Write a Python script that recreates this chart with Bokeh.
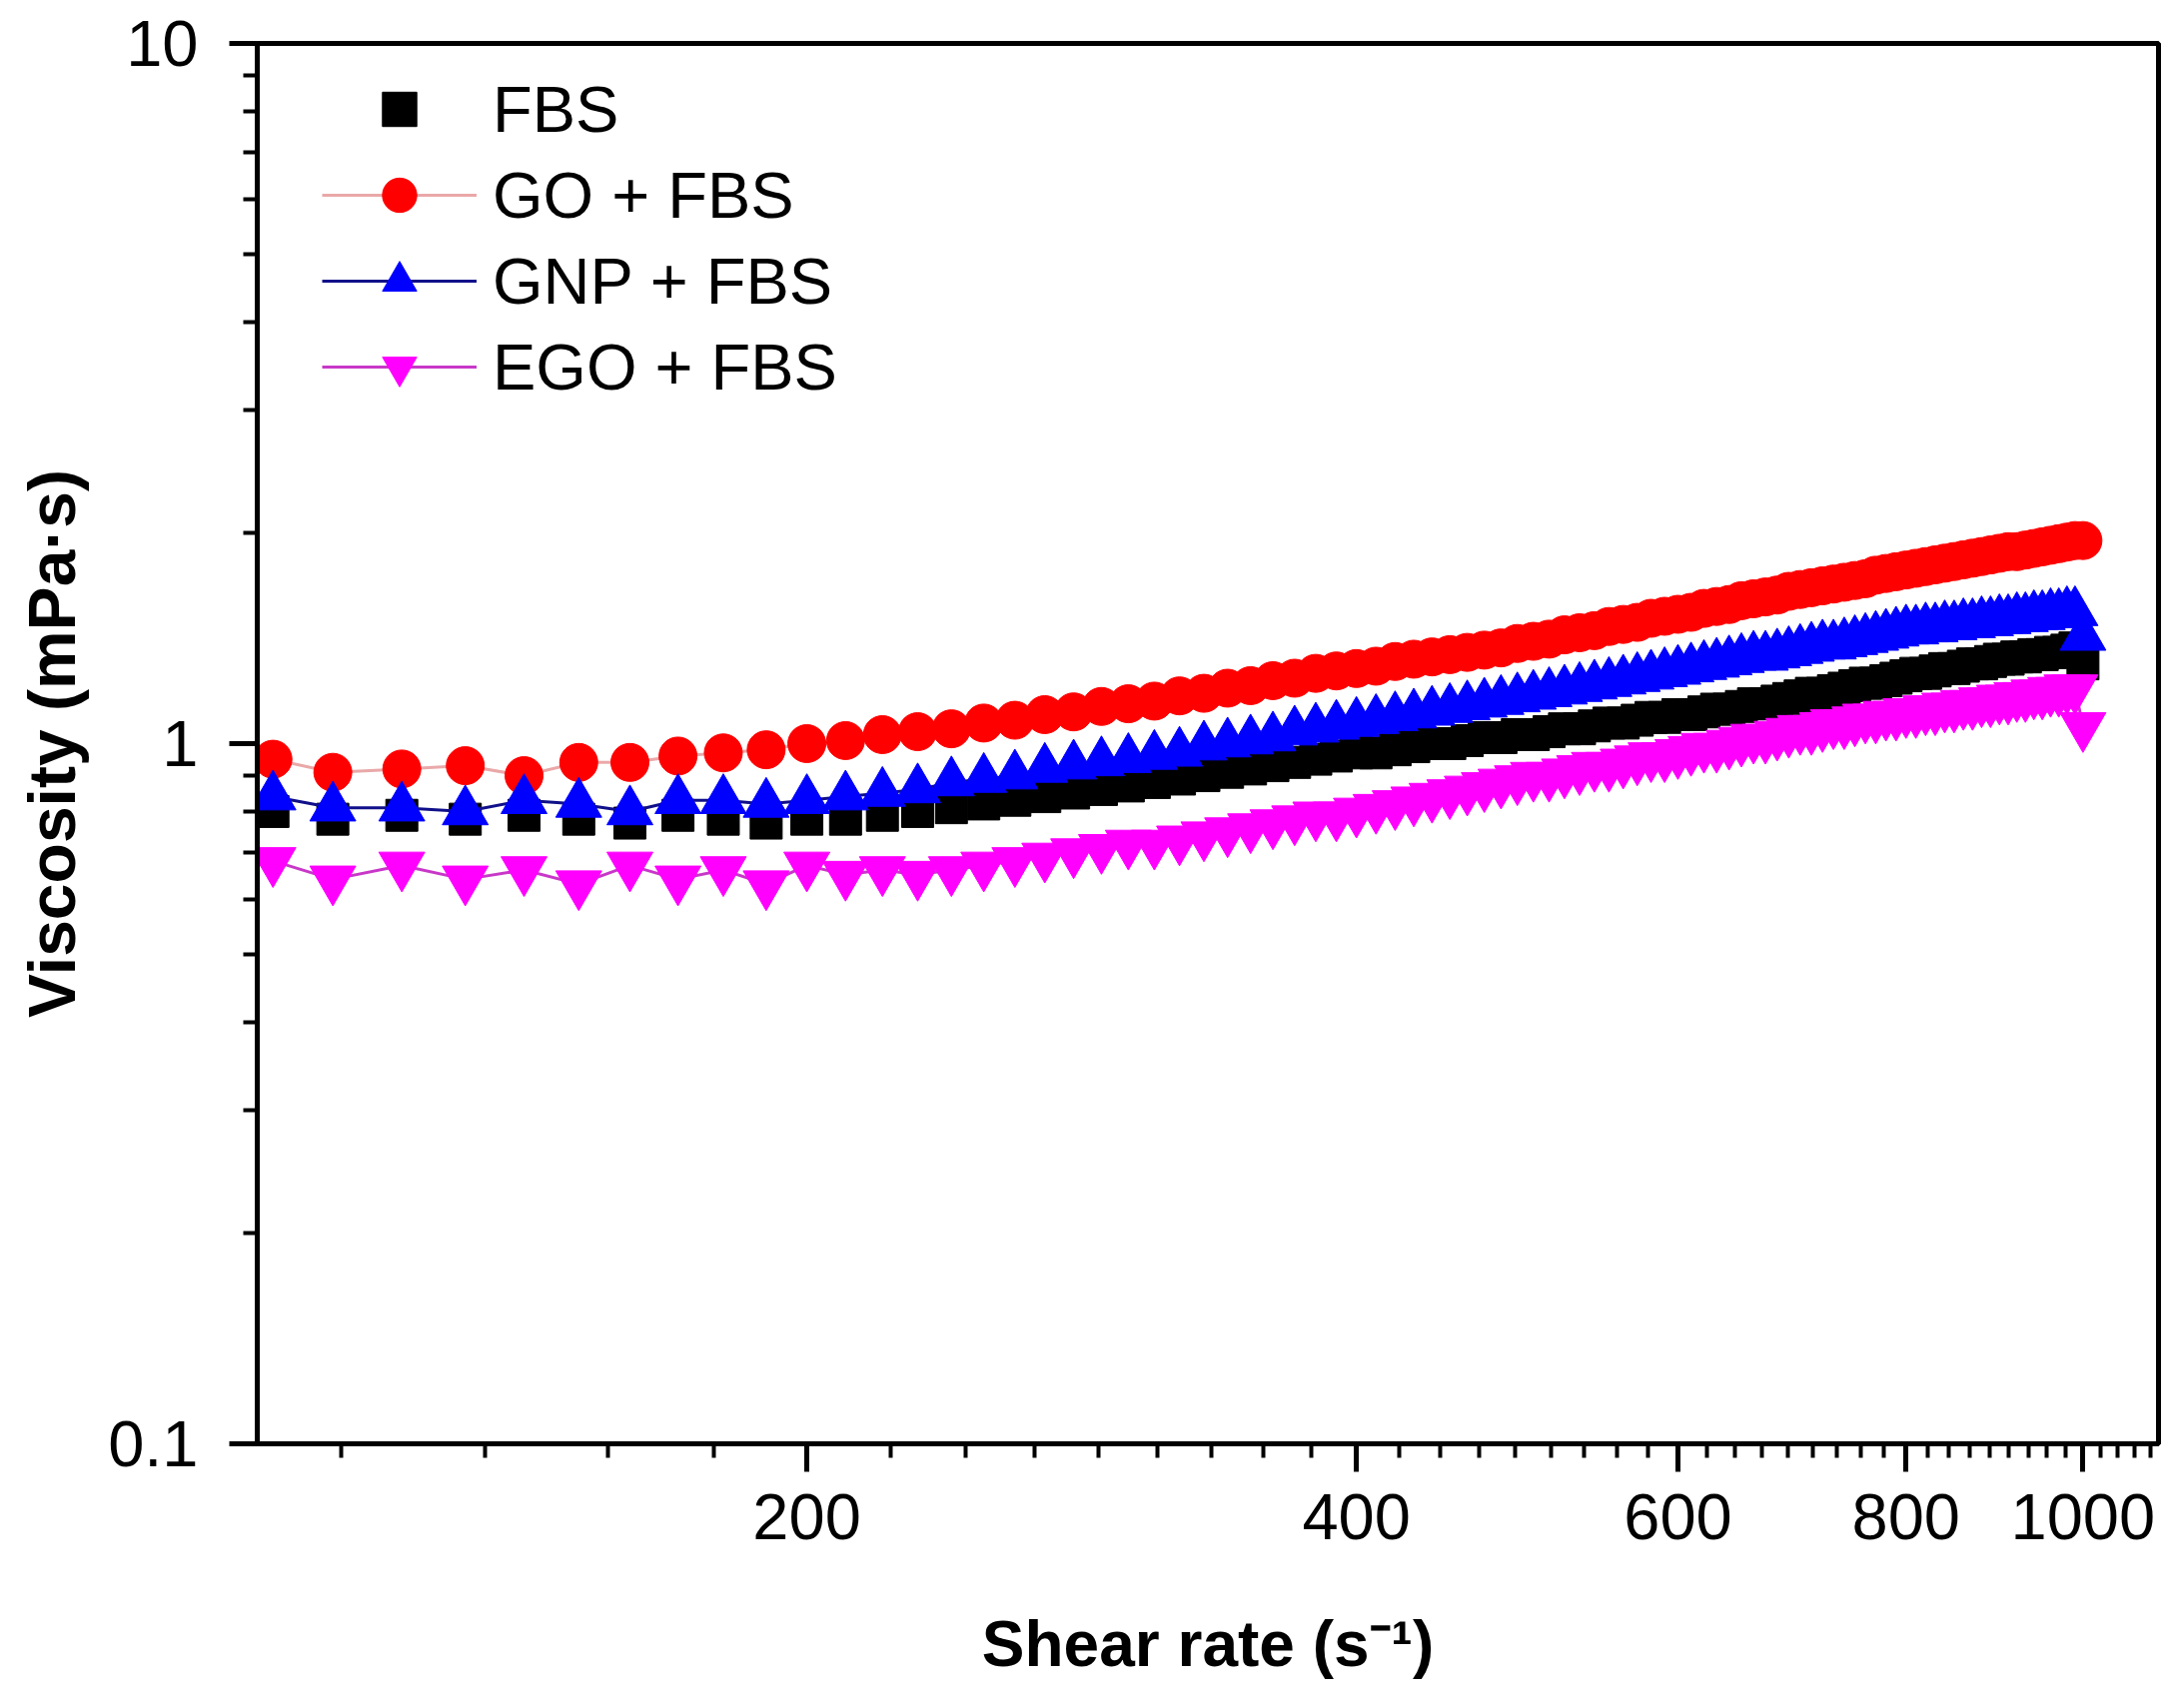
from bokeh.plotting import figure
from bokeh.models import Range1d, FixedTicker, CustomJSTickFormatter, Legend, LegendItem
from bokeh.embed import file_html
from bokeh.resources import INLINE

# ---------------- data ----------------
shear_rate = [102, 110, 120, 130, 140, 150, 160, 170, 180, 190,
              200, 210, 220, 230, 240, 250, 260, 270, 280, 290,
              300, 310, 320, 330, 340, 350, 360, 370, 380, 390,
              400, 410, 420, 430, 440, 450, 460, 470, 480, 490,
              500, 510, 520, 530, 540, 550, 560, 570, 580, 590,
              600, 610, 620, 630, 640, 650, 660, 670, 680, 690,
              700, 710, 720, 730, 740, 750, 760, 770, 780, 790,
              800, 810, 820, 830, 840, 850, 860, 870, 880, 890,
              900, 910, 920, 930, 940, 950, 960, 970, 980, 990,
              1000]

fbs = [0.80, 0.78, 0.79, 0.78, 0.79, 0.78, 0.77, 0.79, 0.78, 0.77,
       0.78, 0.78, 0.79, 0.80, 0.81, 0.82, 0.83, 0.84, 0.85, 0.86,
       0.87, 0.88, 0.89, 0.90, 0.91, 0.92, 0.93, 0.94, 0.95, 0.96,
       0.97, 0.97, 0.98, 0.99, 1.00, 1.00, 1.01, 1.02, 1.02, 1.03,
       1.03, 1.04, 1.05, 1.05, 1.06, 1.07, 1.07, 1.08, 1.09, 1.09,
       1.10, 1.10, 1.11, 1.12, 1.12, 1.13, 1.14, 1.14, 1.15, 1.16,
       1.17, 1.18, 1.18, 1.19, 1.20, 1.21, 1.22, 1.22, 1.23, 1.24,
       1.25, 1.26, 1.26, 1.27, 1.28, 1.28, 1.29, 1.30, 1.30, 1.31,
       1.32, 1.32, 1.33, 1.33, 1.34, 1.34, 1.35, 1.35, 1.36, 1.37,
       1.30]

go_fbs = [0.95, 0.91, 0.92, 0.93, 0.90, 0.94, 0.94, 0.96, 0.97, 0.98,
          1.00, 1.01, 1.03, 1.04, 1.05, 1.07, 1.08, 1.10, 1.11, 1.13,
          1.14, 1.15, 1.17, 1.18, 1.20, 1.21, 1.23, 1.24, 1.26, 1.27,
          1.28, 1.29, 1.31, 1.32, 1.33, 1.34, 1.35, 1.36, 1.37, 1.39,
          1.40, 1.41, 1.43, 1.44, 1.45, 1.47, 1.48, 1.49, 1.51, 1.52,
          1.53, 1.54, 1.56, 1.57, 1.58, 1.60, 1.61, 1.62, 1.63, 1.65,
          1.66, 1.67, 1.68, 1.69, 1.70, 1.71, 1.72, 1.74, 1.75, 1.76,
          1.77, 1.78, 1.79, 1.80, 1.81, 1.82, 1.83, 1.84, 1.85, 1.86,
          1.87, 1.88, 1.88, 1.89, 1.90, 1.91, 1.92, 1.93, 1.94, 1.95,
          1.95]

gnp_fbs = [0.84, 0.81, 0.81, 0.80, 0.83, 0.82, 0.80, 0.83, 0.83, 0.82,
           0.83, 0.84, 0.85, 0.86, 0.88, 0.89, 0.90, 0.92, 0.93, 0.94,
           0.95, 0.96, 0.97, 0.99, 1.00, 1.01, 1.02, 1.04, 1.05, 1.06,
           1.07, 1.08, 1.09, 1.10, 1.11, 1.12, 1.13, 1.14, 1.15, 1.16,
           1.17, 1.18, 1.19, 1.20, 1.21, 1.22, 1.23, 1.24, 1.25, 1.26,
           1.27, 1.28, 1.29, 1.30, 1.31, 1.32, 1.33, 1.33, 1.34, 1.35,
           1.36, 1.37, 1.38, 1.38, 1.39, 1.40, 1.41, 1.42, 1.43, 1.44,
           1.45, 1.45, 1.46, 1.46, 1.47, 1.47, 1.48, 1.48, 1.49, 1.49,
           1.50, 1.50, 1.51, 1.51, 1.52, 1.52, 1.53, 1.53, 1.54, 1.54,
           1.42]

ego_fbs = [0.68, 0.64, 0.67, 0.64, 0.66, 0.63, 0.67, 0.64, 0.66, 0.63,
           0.67, 0.65, 0.66, 0.65, 0.66, 0.67, 0.68, 0.69, 0.70, 0.71,
           0.72, 0.72, 0.73, 0.74, 0.75, 0.76, 0.77, 0.78, 0.79, 0.79,
           0.80, 0.81, 0.82, 0.83, 0.84, 0.85, 0.86, 0.87, 0.88, 0.89,
           0.90, 0.90, 0.91, 0.92, 0.93, 0.93, 0.94, 0.95, 0.96, 0.96,
           0.97, 0.98, 0.99, 0.99, 1.00, 1.01, 1.02, 1.02, 1.03, 1.04,
           1.05, 1.05, 1.06, 1.07, 1.07, 1.08, 1.09, 1.09, 1.10, 1.10,
           1.11, 1.11, 1.12, 1.12, 1.13, 1.13, 1.14, 1.14, 1.15, 1.15,
           1.16, 1.16, 1.17, 1.17, 1.18, 1.18, 1.19, 1.19, 1.20, 1.20,
           1.06]

series_labels = ["FBS", "GO + FBS", "GNP + FBS", "EGO + FBS"]
x_major_ticks = [200, 400, 600, 800, 1000]
y_major_ticks = [0.1, 1, 10]
y_minor_ticks = [0.2, 0.3, 0.4, 0.5, 0.6, 0.7, 0.8, 0.9, 2, 3, 4, 5, 6, 7, 8, 9]
x_minor_ticks = [200 + k * 200.0 / 9 for k in range(-4, 41) if k % 9 != 0]

FONT = "Liberation Sans"

p = figure(width=2166, height=1694,
           x_axis_type="log", y_axis_type="log",
           x_range=Range1d(100, 1100), y_range=Range1d(0.1, 10),
           output_backend="svg", toolbar_location=None,
           min_border_left=257, min_border_right=6,
           min_border_top=43, min_border_bottom=249)

p.grid.visible = False
p.outline_line_color = "black"
p.outline_line_width = 5
p.background_fill_color = "white"
p.border_fill_color = "white"

# axes
p.xaxis.ticker = FixedTicker(ticks=x_major_ticks, minor_ticks=x_minor_ticks)
p.yaxis.ticker = FixedTicker(ticks=y_major_ticks, minor_ticks=y_minor_ticks)
p.xaxis.formatter = CustomJSTickFormatter(code="return tick.toFixed(0);")
p.yaxis.formatter = CustomJSTickFormatter(code="return tick < 1 ? tick.toFixed(1) : tick.toFixed(0);")

for ax in (p.xaxis, p.yaxis):
    ax.axis_line_width = 5
    ax.axis_line_color = "black"
    ax.major_tick_line_width = 5
    ax.minor_tick_line_width = 4
    ax.major_tick_in = 0
    ax.minor_tick_in = 0
    ax.major_tick_out = 28
    ax.minor_tick_out = 14
    ax.major_label_text_font = FONT
    ax.major_label_text_font_size = "65px"
    ax.major_label_text_color = "black"
    ax.axis_label_text_font = FONT
    ax.axis_label_text_font_style = "bold"
    ax.axis_label_text_color = "black"

p.xaxis.axis_label_text_font_size = "64px"
p.yaxis.axis_label_text_font_size = "66px"
p.xaxis.major_label_standoff = 22
p.yaxis.major_label_standoff = 31
p.xaxis.axis_label = "Shear rate (s\u207b\u00b9)"
p.yaxis.axis_label = "Viscosity (mPa\u00b7s)"
p.xaxis.axis_label_standoff = 66
p.yaxis.axis_label_standoff = 16

# series
r_fbs = p.scatter(shear_rate, fbs, marker="square", size=32,
                  fill_color="black", line_color="black")

l_go = p.line(shear_rate, go_fbs, line_color="#eaa8a8", line_width=3)
r_go = p.scatter(shear_rate, go_fbs, marker="circle", size=38,
                 fill_color="#ff0000", line_color="#ff0000")

l_gnp = p.line(shear_rate, gnp_fbs, line_color="#10108a", line_width=3)
r_gnp = p.scatter(shear_rate, gnp_fbs, marker="triangle", size=46,
                  fill_color="#0000ff", line_color="#0000ff")

l_ego = p.line(shear_rate, ego_fbs, line_color="#c838c8", line_width=3)
r_ego = p.scatter(shear_rate, ego_fbs, marker="inverted_triangle", size=46,
                  fill_color="#ff00ff", line_color="#ff00ff")

legend = Legend(items=[
    LegendItem(label=series_labels[0], renderers=[r_fbs]),
    LegendItem(label=series_labels[1], renderers=[l_go, r_go]),
    LegendItem(label=series_labels[2], renderers=[l_gnp, r_gnp]),
    LegendItem(label=series_labels[3], renderers=[l_ego, r_ego]),
])
legend.location = (55, 1025)
legend.margin = 0
legend.padding = 10
legend.spacing = 0
legend.glyph_width = 155
legend.glyph_height = 86
legend.label_standoff = 16
legend.label_text_font = FONT
legend.label_text_font_size = "65px"
legend.label_text_color = "black"
legend.border_line_alpha = 0
legend.background_fill_alpha = 0
p.add_layout(legend)

open("out.html", "w").write(file_html(p, INLINE))
